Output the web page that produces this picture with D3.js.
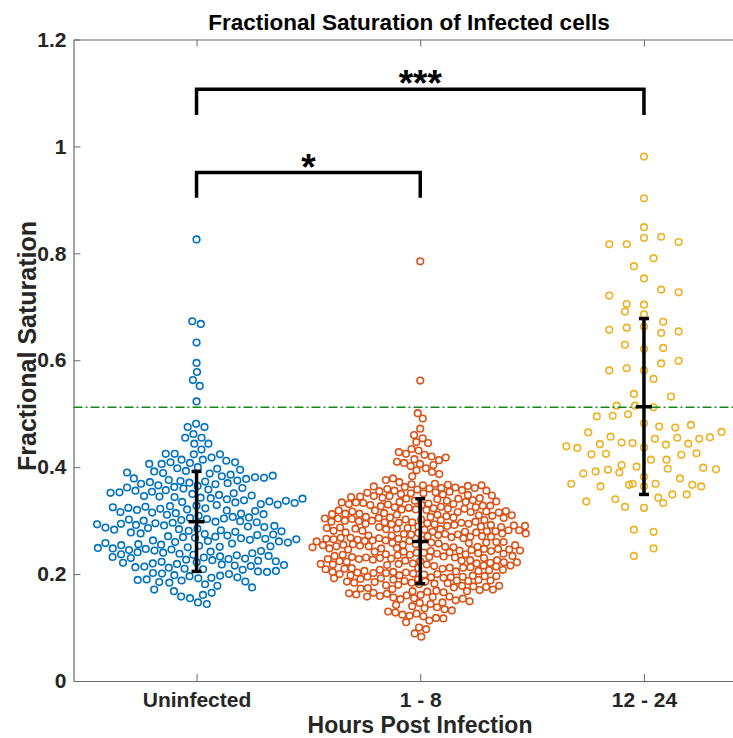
<!DOCTYPE html>
<html>
<head>
<meta charset="utf-8">
<script src="https://cdn.jsdelivr.net/npm/d3@7"></script>
<style>
  html, body { margin: 0; padding: 0; background: #fff; }
  svg { display: block; font-family: "Liberation Sans", Arial, Helvetica, sans-serif; }
</style>
</head>
<body>
<svg id="chart" width="733" height="738"></svg>
<script>
// ---- Data ----
const categories = ['Uninfected', '1 - 8', '12 - 24'];
const colors = ['#0072BD', '#D95319', '#EDB120'];

const uninfected = [
  0.826, 0.673, 0.668, 0.633, 0.595, 0.578, 0.563, 0.552, 0.523, 0.481, 0.475, 0.475,
  0.462, 0.455, 0.455, 0.444, 0.444, 0.433,
  0.425, 0.425, 0.424, 0.424, 0.418, 0.414, 0.414, 0.412, 0.409, 0.409, 0.408, 0.406, 0.406, 0.400,
  0.398, 0.397, 0.395, 0.393, 0.392, 0.390, 0.389, 0.388, 0.386, 0.384, 0.383, 0.381, 0.380, 0.379,
  0.378, 0.376, 0.375, 0.374, 0.373, 0.372, 0.371, 0.370,
  0.369, 0.368, 0.366, 0.365, 0.363, 0.362, 0.361, 0.360, 0.358, 0.357, 0.356, 0.354, 0.353, 0.352,
  0.351, 0.350, 0.348, 0.347, 0.346, 0.345, 0.344, 0.343, 0.342, 0.341, 0.340,
  0.338, 0.337, 0.336, 0.335, 0.334, 0.333, 0.331, 0.330, 0.329, 0.328, 0.327, 0.326, 0.325, 0.324,
  0.323, 0.322, 0.321, 0.320, 0.319, 0.318, 0.316, 0.315, 0.314, 0.313, 0.312, 0.311, 0.309,
  0.307, 0.306, 0.305, 0.304, 0.303, 0.302, 0.301, 0.300, 0.299, 0.298, 0.297, 0.296, 0.295, 0.294,
  0.293, 0.292, 0.291, 0.290, 0.289, 0.288, 0.287, 0.286, 0.285, 0.284, 0.283, 0.282, 0.281, 0.280,
  0.279, 0.278,
  0.276, 0.275, 0.274, 0.273, 0.272, 0.271, 0.270, 0.269, 0.268, 0.267, 0.266, 0.265,
  0.264, 0.263, 0.262, 0.261, 0.260, 0.259, 0.258, 0.257, 0.256, 0.255, 0.254, 0.253,
  0.252, 0.251, 0.250, 0.249, 0.248, 0.247, 0.246, 0.245,
  0.244, 0.243, 0.242, 0.241, 0.240, 0.239, 0.238, 0.237, 0.236, 0.235, 0.234, 0.233, 0.232,
  0.231, 0.230, 0.229, 0.228, 0.227, 0.226, 0.225, 0.224, 0.223, 0.222, 0.221, 0.220, 0.219,
  0.218, 0.217, 0.216, 0.215, 0.214,
  0.213, 0.212, 0.210, 0.209, 0.208, 0.206, 0.205, 0.204, 0.202, 0.201, 0.200, 0.198, 0.197, 0.196,
  0.194, 0.193, 0.192, 0.190, 0.189, 0.188, 0.186, 0.185, 0.184,
  0.181, 0.178, 0.175, 0.171, 0.168, 0.165, 0.161, 0.158, 0.155,
  0.147, 0.144
];

const hours1to8 = [
  0.785, 0.562, 0.501, 0.491, 0.472,
  0.460, 0.454, 0.447, 0.445, 0.434,
  0.431, 0.428, 0.425, 0.423, 0.420, 0.418, 0.415, 0.413, 0.410, 0.408, 0.406, 0.404, 0.402,
  0.398, 0.394, 0.391, 0.387, 0.383, 0.379, 0.376, 0.372,
  0.369, 0.368, 0.367, 0.366, 0.365, 0.364, 0.363, 0.362, 0.361, 0.360, 0.359, 0.358, 0.357, 0.356,
  0.355, 0.354, 0.353, 0.352, 0.351, 0.350, 0.349, 0.348, 0.347, 0.346, 0.345, 0.344, 0.343, 0.342,
  0.341, 0.340, 0.366, 0.361, 0.356, 0.351, 0.346, 0.341,
  0.338, 0.337, 0.337, 0.336, 0.335, 0.334, 0.334, 0.333, 0.332, 0.331, 0.331, 0.330, 0.329, 0.328,
  0.328, 0.327, 0.326, 0.325, 0.325, 0.324, 0.323, 0.322, 0.322, 0.321, 0.320, 0.319, 0.319, 0.318,
  0.317, 0.316, 0.316, 0.315, 0.314, 0.313, 0.313, 0.312, 0.311, 0.310, 0.310, 0.309, 0.308,
  0.335, 0.329, 0.321, 0.317, 0.311,
  0.307, 0.307, 0.306, 0.305, 0.305, 0.304, 0.304, 0.303, 0.302, 0.302, 0.301, 0.300, 0.300, 0.299,
  0.298, 0.298, 0.297, 0.296, 0.296, 0.295, 0.294, 0.294, 0.293, 0.292, 0.292, 0.291, 0.290, 0.290,
  0.289, 0.288, 0.288, 0.287, 0.286, 0.286, 0.285, 0.284, 0.284, 0.283, 0.282, 0.282, 0.281, 0.280,
  0.280, 0.279, 0.278, 0.278, 0.277, 0.306, 0.301, 0.297, 0.293, 0.289, 0.285, 0.281, 0.279,
  0.276, 0.276, 0.275, 0.274, 0.274, 0.273, 0.272, 0.272, 0.271, 0.270, 0.270, 0.269, 0.268, 0.268,
  0.267, 0.266, 0.266, 0.265, 0.264, 0.264, 0.263, 0.262, 0.262, 0.261, 0.260, 0.260, 0.259, 0.258,
  0.258, 0.257, 0.256, 0.256, 0.255, 0.254, 0.254, 0.253, 0.252, 0.252, 0.251, 0.250, 0.250, 0.249,
  0.248, 0.248, 0.247, 0.246, 0.246, 0.275, 0.271, 0.267, 0.263, 0.259, 0.255, 0.251, 0.247,
  0.245, 0.244, 0.244, 0.243, 0.242, 0.242, 0.241, 0.240, 0.240, 0.239, 0.238, 0.238, 0.237, 0.236,
  0.236, 0.235, 0.234, 0.234, 0.233, 0.232, 0.232, 0.231, 0.230, 0.230, 0.229, 0.228, 0.228, 0.227,
  0.226, 0.226, 0.225, 0.224, 0.224, 0.223, 0.222, 0.222, 0.221, 0.220, 0.220, 0.219, 0.218, 0.218,
  0.217, 0.216, 0.216, 0.215, 0.243, 0.237, 0.231, 0.225, 0.219, 0.214,
  0.213, 0.212, 0.212, 0.211, 0.210, 0.210, 0.209, 0.208, 0.208, 0.207, 0.206, 0.206, 0.205, 0.204,
  0.204, 0.203, 0.202, 0.202, 0.201, 0.200, 0.200, 0.199, 0.198, 0.198, 0.197, 0.196, 0.196, 0.195,
  0.194, 0.194, 0.193, 0.192, 0.192, 0.191, 0.190, 0.190, 0.189, 0.188, 0.188, 0.187, 0.186, 0.186,
  0.185, 0.184, 0.184, 0.183, 0.211, 0.203, 0.195, 0.187,
  0.182, 0.181, 0.180, 0.179, 0.178, 0.177, 0.176, 0.175, 0.174, 0.173, 0.172, 0.171, 0.170, 0.169,
  0.168, 0.167, 0.166, 0.165, 0.164, 0.163, 0.162, 0.161, 0.160, 0.159, 0.158, 0.157, 0.156, 0.155,
  0.154, 0.153, 0.178, 0.168, 0.158,
  0.151, 0.149, 0.147, 0.146, 0.144, 0.142, 0.140, 0.138, 0.136, 0.134, 0.132, 0.130, 0.128, 0.126,
  0.124, 0.122, 0.121,
  0.118, 0.117, 0.113, 0.110, 0.100, 0.097, 0.089, 0.083
];

const hours12to24 = [
  0.981, 0.903, 0.849, 0.829, 0.831, 0.821, 0.817, 0.817, 0.791, 0.776, 0.753, 0.732, 0.727, 0.721,
  0.705, 0.704, 0.691, 0.686, 0.672, 0.657, 0.661, 0.663, 0.651, 0.654, 0.629, 0.621, 0.623, 0.594,
  0.599, 0.581, 0.585, 0.581, 0.565,
  0.537, 0.532, 0.515, 0.515, 0.512, 0.495, 0.496, 0.499, 0.482, 0.476, 0.474, 0.479, 0.465, 0.457,
  0.466, 0.456, 0.453, 0.455, 0.453, 0.446, 0.445, 0.439, 0.436, 0.443, 0.442, 0.444, 0.437, 0.424,
  0.425, 0.423, 0.426, 0.414, 0.414, 0.404, 0.401, 0.399, 0.396, 0.388, 0.392, 0.395, 0.390, 0.397,
  0.382, 0.379, 0.369, 0.364, 0.367, 0.369, 0.364, 0.369, 0.367, 0.364, 0.349, 0.349, 0.336, 0.340,
  0.343, 0.333, 0.326, 0.324, 0.283, 0.279, 0.248, 0.234
];
// horizontal spread of the 12 - 24 points, in category units
const hours12to24Jitter = [
  0, 0, 0, 0, 0.077, 0.155, -0.155, -0.077, 0.043, -0.045, 0, 0.077, 0.155, -0.155,
  -0.077, 0, -0.085, 0, 0.086, -0.155, -0.077, 0, 0.077, 0.155, -0.085, 0, 0.086, 0.077,
  0.155, -0.155, -0.077, 0, 0.043,
  -0.045, 0.121, -0.122, -0.040, 0.042, -0.211, -0.140, -0.071, 0, 0.068, 0.140, 0.210, -0.249, -0.149,
  0.347, 0.295, 0.247, 0.149, 0.049, -0.100, -0.051, -0.347, -0.298, -0.197, 0.098, 0.198, 0, -0.235,
  -0.170, 0.167, 0.235, 0.031, 0.101, -0.100, -0.033, 0.265, 0.322, -0.271, -0.216, -0.161, -0.110, 0.106,
  0, 0.161, -0.325, -0.194, -0.067, -0.051, 0, 0.052, 0.216, 0.256, 0.127, 0.191, -0.258, -0.128,
  0.064, 0.086, -0.085, 0, -0.045, 0.043, 0.043, -0.045
];

const groupValues = [uninfected, hours1to8, hours12to24];

// mean and spread bars
const errMean = [0.298, 0.261, 0.513];
const errLow = [0.205, 0.182, 0.349];
const errHigh = [0.392, 0.341, 0.678];

const thresholdValue = 0.512;

// significance brackets
const bracketFrom = [1, 1];
const bracketTo = [3, 2];
const bracketTop = [1.107, 0.951];
const bracketLeg = [1.059, 0.904];
const bracketText = ['***', '*'];

const yTicks = [0, 0.2, 0.4, 0.6, 0.8, 1, 1.2];

// ---- Layout ----
const svg = d3.select('#chart');
const plotLeft = 73.5, plotRight = 767, plotTop = 39.5, plotBottom = 681;

const x = d3.scaleLinear().domain([0.45, 3.55]).range([plotLeft, plotRight]);
const y = d3.scaleLinear().domain([0, 1.2]).range([plotBottom, plotTop]);

const axisColor = '#6b6b6b';

// ---- Axes (box, ticks inside) ----
const gy = svg.append('g').attr('transform', `translate(${plotLeft},0)`)
  .call(d3.axisLeft(y).tickValues(yTicks).tickFormat(d3.format('~g'))
    .tickSizeInner(-7).tickSizeOuter(0).tickPadding(7));

const gx = svg.append('g').attr('transform', `translate(0,${plotBottom})`)
  .call(d3.axisBottom(x).tickValues([1, 2, 3]).tickFormat((d) => categories[d - 1])
    .tickSizeInner(-7).tickSizeOuter(0).tickPadding(11));

const gt = svg.append('g').attr('transform', `translate(0,${plotTop})`)
  .call(d3.axisTop(x).tickValues([1, 2, 3]).tickFormat('')
    .tickSizeInner(-7).tickSizeOuter(0));

[gy, gx, gt].forEach((g) => {
  g.select('.domain').attr('stroke', axisColor).attr('stroke-width', 1.2);
  g.selectAll('.tick line').attr('stroke', axisColor).attr('stroke-width', 1);
  g.selectAll('.tick text')
    .attr('fill', '#262626')
    .attr('font-size', 21)
    .attr('font-weight', 'bold')
    .attr('font-family', '"Liberation Sans", Arial, sans-serif');
});

// ---- Swarm layout for the points ----
function swarm(values, cat, radius, jitter) {
  const cx = x(cat);
  const nodes = values.map((v, i) => ({
    v,
    fy: y(v),
    y: y(v),
    x: jitter ? x(cat + jitter[i]) : cx + ((i % 9) - 4) * 1.5
  }));
  if (jitter) return nodes;
  const sim = d3.forceSimulation(nodes)
    .force('x', d3.forceX(cx).strength(0.08))
    .force('collide', d3.forceCollide(radius).iterations(4))
    .stop();
  for (let i = 0; i < 400; i++) sim.tick();
  return nodes;
}

const radii = [4.5, 3.65, 4];
const jitters = [null, null, hours12to24Jitter];

groupValues.forEach((vals, gi) => {
  const nodes = swarm(vals, gi + 1, radii[gi], jitters[gi]);
  svg.append('g')
    .selectAll('circle')
    .data(nodes)
    .join('circle')
    .attr('cx', (d) => d.x)
    .attr('cy', (d) => d.y)
    .attr('r', 3.3)
    .attr('fill', 'none')
    .attr('stroke', colors[gi])
    .attr('stroke-width', 1.6);
});

// ---- Threshold line ----
svg.append('line')
  .attr('x1', plotLeft).attr('x2', plotRight)
  .attr('y1', y(thresholdValue)).attr('y2', y(thresholdValue))
  .attr('stroke', '#138a13')
  .attr('stroke-width', 1.5)
  .attr('stroke-dasharray', '9,3,2,3');

// ---- Error bars ----
const eb = svg.append('g').attr('stroke', '#000').attr('stroke-width', 3.5);
errMean.forEach((m, i) => {
  const cx = x(i + 1);
  eb.append('line').attr('x1', cx).attr('x2', cx).attr('y1', y(errLow[i])).attr('y2', y(errHigh[i]));
  eb.append('line').attr('x1', cx - 5).attr('x2', cx + 5).attr('y1', y(errLow[i])).attr('y2', y(errLow[i]));
  eb.append('line').attr('x1', cx - 5).attr('x2', cx + 5).attr('y1', y(errHigh[i])).attr('y2', y(errHigh[i]));
  eb.append('line').attr('x1', cx - 8).attr('x2', cx + 8).attr('y1', y(m)).attr('y2', y(m));
});

// ---- Significance brackets ----
bracketFrom.forEach((a, i) => {
  const x1 = x(a), x2 = x(bracketTo[i]);
  svg.append('path')
    .attr('d', `M${x1},${y(bracketLeg[i])}V${y(bracketTop[i])}H${x2}V${y(bracketLeg[i])}`)
    .attr('fill', 'none')
    .attr('stroke', '#000')
    .attr('stroke-width', 3.5);
  svg.append('text')
    .attr('x', (x1 + x2) / 2)
    .attr('y', y(bracketTop[i]) + 7)
    .attr('text-anchor', 'middle')
    .attr('font-size', 37)
    .attr('font-weight', 'bold')
    .text(bracketText[i]);
});

// ---- Titles ----
svg.append('text')
  .attr('x', 409).attr('y', 30)
  .attr('text-anchor', 'middle')
  .attr('font-size', 22.5)
  .attr('font-weight', 'bold')
  .attr('fill', '#000')
  .text('Fractional Saturation of Infected cells');

svg.append('text')
  .attr('x', 420).attr('y', 733)
  .attr('text-anchor', 'middle')
  .attr('font-size', 23)
  .attr('font-weight', 'bold')
  .attr('fill', '#262626')
  .text('Hours Post Infection');

svg.append('text')
  .attr('transform', 'translate(36,346) rotate(-90)')
  .attr('text-anchor', 'middle')
  .attr('font-size', 25)
  .attr('font-weight', 'bold')
  .attr('fill', '#262626')
  .text('Fractional Saturation');
</script>
</body>
</html>
